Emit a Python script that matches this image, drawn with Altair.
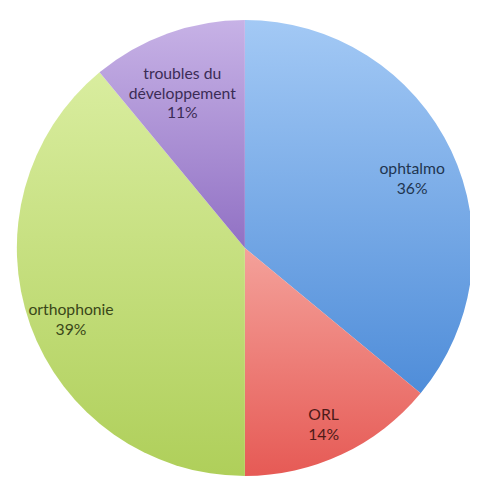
import math
import altair as alt
import pandas as pd

categories = ["ophtalmo", "ORL", "orthophonie", "troubles du développement"]
values = [36, 14, 39, 11]
label_lines = [["ophtalmo"], ["ORL"], ["orthophonie"], ["troubles du", "développement"]]
fill_top = ["#a3c9f5", "#f4a19a", "#d9ed9f", "#c7b2e6"]
fill_bottom = ["#4f8dd9", "#e65a55", "#afcf5a", "#9171c4"]
text_colors = ["#1f3550", "#4d1a18", "#3a4719", "#3b2c55"]

df = pd.DataFrame({
    "idx": list(range(len(categories))),
    "category": categories,
    "value": values,
    "label": ["\n".join(l + [f"{v}%"]) for l, v in zip(label_lines, values)],
})

CX, CY, R = 241, 240, 232

base = (
    alt.Chart(df)
    .transform_window(cum="sum(value)", sort=[alt.SortField("idx")], frame=[None, 0])
    .transform_calculate(start="datum.cum - datum.value", mid="datum.cum - datum.value / 2")
)

theta_scale = alt.Scale(domain=[0, 100], range=[0, 2 * math.pi])

layers = []
for c, t, b in zip(categories, fill_top, fill_bottom):
    grad = alt.LinearGradient(
        gradient="linear",
        stops=[alt.GradientStop(color=t, offset=0), alt.GradientStop(color=b, offset=1)],
        x1=0, x2=0, y1=0, y2=1,
    )
    layers.append(
        base.transform_filter(alt.datum.category == c)
        .mark_arc(radius=R, fill=grad, stroke=None)
        .encode(
            theta=alt.Theta("start:Q", scale=theta_scale),
            theta2="cum:Q",
            x=alt.value(CX),
            y=alt.value(CY),
        )
    )

text = base.mark_text(
    radius=188, font="Lato", fontSize=16, lineBreak="\n", lineHeight=20, baseline="middle"
).encode(
    theta=alt.Theta("mid:Q", scale=theta_scale),
    x=alt.value(CX),
    y=alt.value(CY),
    text="label:N",
    color=alt.Color("category:N", scale=alt.Scale(domain=categories, range=text_colors), legend=None),
)

chart = (
    alt.layer(*layers, text)
    .properties(width=470, height=475, padding=0, autosize=alt.AutoSizeParams(type="none"), background="white")
    .configure_view(stroke=None)
)

chart.save("out.html", embed_options={"renderer": "svg", "actions": False})
